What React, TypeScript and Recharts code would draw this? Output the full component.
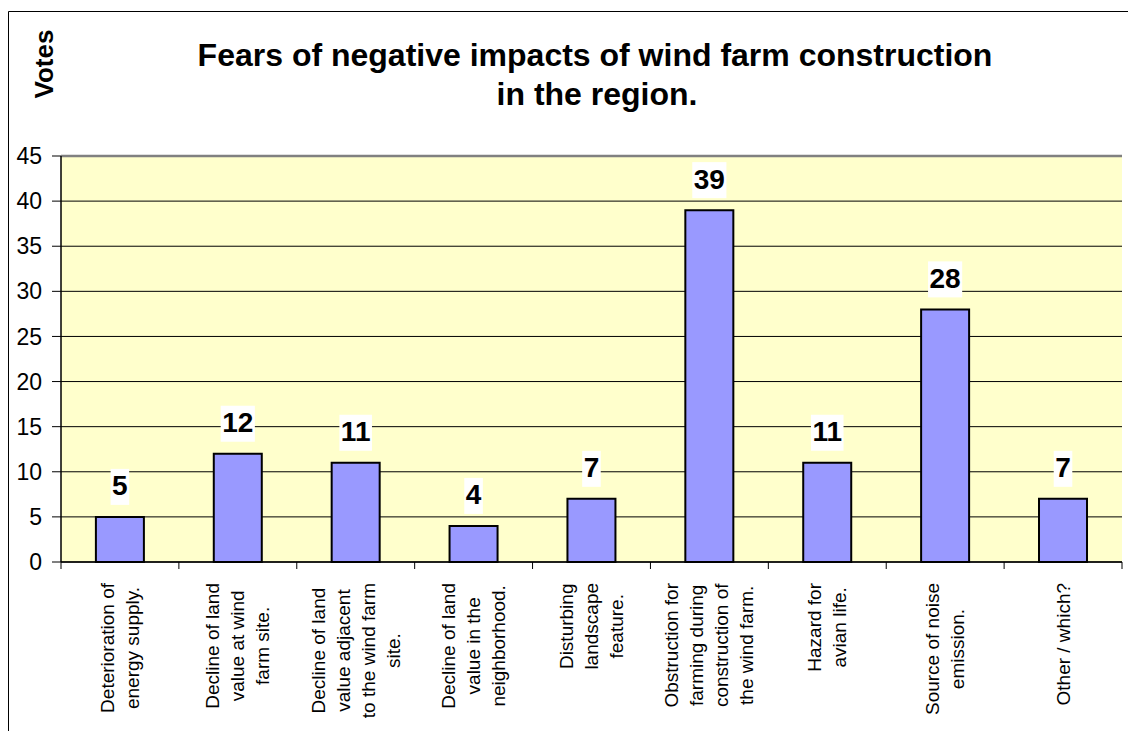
import { BarChart, Bar, XAxis, YAxis, CartesianGrid, LabelList } from "recharts";

const categories = [
  "Deterioration of\nenergy supply.",
  "Decline of land\nvalue at wind\nfarm site.",
  "Decline of land\nvalue adjacent\nto the wind farm\nsite.",
  "Decline of land\nvalue in the\nneighborhood.",
  "Disturbing\nlandscape\nfeature.",
  "Obstruction for\nfarming during\nconstruction of\nthe wind farm.",
  "Hazard for\navian life.",
  "Source of noise\nemission.",
  "Other / which?",
];
const votes = [5, 12, 11, 4, 7, 39, 11, 28, 7];
const yTicks = [0, 5, 10, 15, 20, 25, 30, 35, 40, 45];

const data = categories.map((label, i) => ({ label, votes: votes[i] }));

const FONT = "Arial, 'Liberation Sans', Helvetica, sans-serif";

let measureCtx: CanvasRenderingContext2D | null = null;
const measure = (text: string, font: string) => {
  if (!measureCtx) measureCtx = document.createElement("canvas").getContext("2d");
  if (!measureCtx) return text.length * 10;
  measureCtx.font = font;
  return measureCtx.measureText(text).width;
};

// rotated, centre-justified multi-line category label, plus the tick marks
// that sit on the category boundaries
const CategoryTick = ({ x, y, payload, index, visibleTicksCount, width }: any) => {
  const lines = String(payload.value).split("\n");
  const maxW = Math.max(...lines.map((l) => measure(l, `19px ${FONT}`)));
  const lineGap = 25;
  const half =
    typeof payload.offset === "number" && payload.offset > 0
      ? payload.offset
      : Number(width) / (2 * categories.length);
  const isLast = index === (visibleTicksCount ?? categories.length) - 1;
  return (
    <g>
      <line x1={x - half} x2={x - half} y1={y} y2={y + 7} stroke="#000" />
      {isLast && <line x1={x + half} x2={x + half} y1={y} y2={y + 7} stroke="#000" />}
      <g transform={`translate(${x},${y}) rotate(-90)`}>
        {lines.map((l, i) => (
          <text
            key={i}
            x={-(21 + maxW / 2)}
            y={(i - (lines.length - 1) / 2) * lineGap}
            textAnchor="middle"
            dominantBaseline="central"
            fontSize={19}
            fontFamily={FONT}
            fill="#000"
          >
            {l}
          </text>
        ))}
      </g>
    </g>
  );
};

// horizontal gridline; the top one doubles as the grey plot-area frame
const GridLine = (props: any) => {
  const isTop = Math.abs(props.y1 - props.y) < 0.5;
  return (
    <line
      x1={props.x1}
      x2={props.x2}
      y1={props.y1}
      y2={props.y2}
      stroke={isTop ? "#808080" : "#000"}
      strokeWidth={isTop ? 2.5 : 1}
    />
  );
};

// bold value with a white box behind it, sitting above the bar
const ValueLabel = ({ x, y, width, value }: any) => {
  const cx = Number(x) + Number(width) / 2;
  const top = Number(y);
  const w = measure(String(value), `bold 28px ${FONT}`) + 3;
  return (
    <g>
      <rect x={cx - w / 2} y={top - 48} width={w} height={36} fill="#fff" />
      <text
        x={cx}
        y={top - 31}
        textAnchor="middle"
        dominantBaseline="central"
        fontSize={28}
        fontWeight="bold"
        fontFamily={FONT}
        fill="#000"
      >
        {value}
      </text>
    </g>
  );
};

export default function App() {
  return (
    <div style={{ position: "absolute", left: 0, top: 0, width: 1128, height: 731, overflow: "hidden", background: "#fff" }}>
      <BarChart
        width={1128}
        height={731}
        data={data}
        margin={{ top: 156, right: 6, bottom: 0, left: 8 }}
        barCategoryGap="29.6%"
      >
        <CartesianGrid vertical={false} horizontal={<GridLine />} fill="#FFFFCC" fillOpacity={1} />
        <XAxis
          dataKey="label"
          tick={<CategoryTick />}
          tickLine={false}
          axisLine={{ stroke: "#000", strokeWidth: 1.5 }}
          interval={0}
          tickSize={0}
          tickMargin={0}
          height={169}
        />
        <YAxis
          domain={[0, 45]}
          ticks={yTicks}
          width={53}
          tickSize={9}
          tickMargin={10}
          tick={{ fontSize: 23, fontFamily: FONT, fill: "#000" }}
          tickLine={{ stroke: "#000" }}
          axisLine={{ stroke: "#000", strokeWidth: 1.5 }}
        />
        <YAxis
          yAxisId="right"
          orientation="right"
          domain={[0, 45]}
          width={0}
          tick={false}
          tickLine={false}
          axisLine={{ stroke: "#808080", strokeWidth: 2.5 }}
        />
        <Bar dataKey="votes" fill="#9999FF" stroke="#000" strokeWidth={2} isAnimationActive={false}>
          <LabelList dataKey="votes" content={<ValueLabel />} />
        </Bar>
      </BarChart>
      <svg
        width={1128}
        height={731}
        style={{ position: "absolute", left: 0, top: 0, pointerEvents: "none" }}
      >
        <path d="M8.5 731 V11.5 H1128" fill="none" stroke="#000" strokeWidth={1} />
        <text x={595} y={66} textAnchor="middle" fontSize={32} fontWeight="bold" fontFamily={FONT} fill="#000">
          Fears of negative impacts of wind farm construction
        </text>
        <text x={597} y={105} textAnchor="middle" fontSize={32} fontWeight="bold" fontFamily={FONT} fill="#000">
          in the region.
        </text>
        <text
          transform="translate(53,64) rotate(-90)"
          textAnchor="middle"
          fontSize={26}
          fontWeight="bold"
          fontFamily={FONT}
          fill="#000"
        >
          Votes
        </text>
      </svg>
    </div>
  );
}
